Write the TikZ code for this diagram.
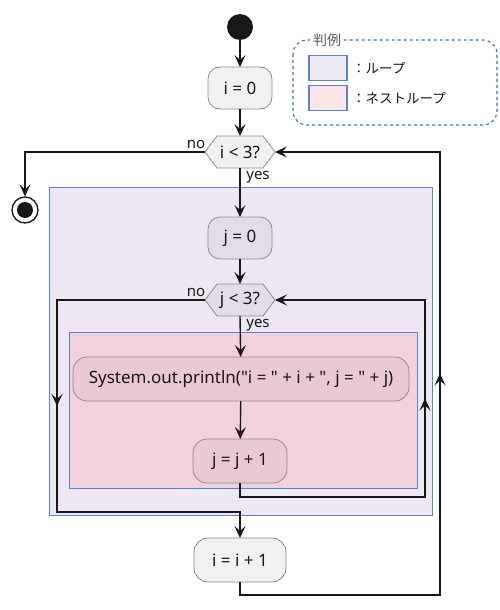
\documentclass[tikz,border=0pt]{standalone}
\usepackage{fontspec}
\setmainfont{Noto Sans}
\newfontfamily\plainfont{Noto Sans}
\newfontfamily\cjk{Noto Sans CJK JP}
\usetikzlibrary{arrows.meta,shapes.symbols,decorations.markings}
\definecolor{loopfill}{HTML}{EEE8F4}
\definecolor{nestfill}{HTML}{F2D3DD}
\definecolor{legloop}{HTML}{EDE9F5}
\definecolor{legnest}{HTML}{FDE4E6}
\definecolor{loopline}{HTML}{5A82D6}
\definecolor{legdash}{HTML}{3070D8}
\definecolor{plainfill}{HTML}{F1F1F1}
\definecolor{nodeline}{HTML}{8C8C8C}
\definecolor{loopnode}{HTML}{E3DDEA}
\definecolor{nestnode}{HTML}{E8C9D4}
\definecolor{ink}{HTML}{181818}
\begin{document}
\begin{tikzpicture}[x=1pt,y=-1pt,
  tip/.style={-{Stealth[length=12pt,width=11pt,inset=5pt]}},
  conn/.style={draw=ink,line width=1.4pt},
  act/.style={rounded corners=12pt,draw=nodeline,line width=0.8pt,minimum height=42pt,inner sep=0pt,outer sep=0pt,font=\plainfont\fontsize{17}{20}\selectfont,text=ink},
  dec/.style={signal,signal to=east and west,signal pointer angle=106,draw=nodeline,line width=0.8pt,minimum width=70pt,minimum height=32pt,inner sep=0pt,outer sep=0pt,font=\plainfont\fontsize{17}{20}\selectfont,text=ink},
  lbl/.style={font=\fontsize{15}{17}\selectfont,text=ink,inner sep=0pt},
  midtip/.style={decoration={markings,mark=at position 0.5 with {\arrow[line width=1.4pt,ink]{Stealth[length=12pt,width=11pt,inset=5pt]}}},postaction={decorate}},
  loopbox/.style={draw=loopline,line width=0.8pt},
  legbox/.style={draw=loopline,line width=1.3pt},
  legtext/.style={anchor=west,font=\cjk\fontsize{13.5}{16}\selectfont,inner sep=0pt,text=ink}
]
\useasboundingbox (0,0) rectangle (500,610);
% loop regions
\path[loopbox,fill=loopfill] (49,187) rectangle (432,515);
\path[loopbox,fill=nestfill] (69,332) rectangle (417,488);
% legend
\draw[legdash,dashed,line width=1.1pt,rounded corners=14pt] (293,40) rectangle (497,125);
\node[fill=white,inner sep=3pt,font=\cjk\fontsize{14}{16}\selectfont,text=black!65] (legt) at (327,40) {判例};
\node[legbox,fill=legloop,minimum width=38pt,minimum height=25pt,inner sep=0pt] (lb1) at (328,68) {};
\node[legbox,fill=legnest,minimum width=38pt,minimum height=25pt,inner sep=0pt] (lb2) at (328,98) {};
\node[legtext] (lt1) at (352,68) {：ループ};
\node[legtext] (lt2) at (352,98) {：ネストループ};
% nodes
\node[circle,fill=ink,minimum size=26pt,inner sep=0pt] (start) at (240,27) {};
\node[act,fill=plainfill,minimum width=64pt] (i0) at (240,88) {i = 0};
\node[dec,fill=plainfill] (d1) at (240,152) {i < 3?};
\node[circle,draw=ink,line width=1.3pt,fill=white,minimum size=26pt,inner sep=0pt] (end) at (25,210) {};
\node[circle,fill=ink,minimum size=16pt,inner sep=0pt] at (end) {};
\node[act,fill=loopnode,minimum width=64pt] (j0) at (240,238) {j = 0};
\node[dec,fill=loopnode] (d2) at (240,300) {j < 3?};
\node[act,fill=nestnode,minimum width=336pt,minimum height=44pt,rounded corners=14pt] (pr) at (241,379) {System.out.println("i = " + i + ", j = " + j)};
\node[act,fill=nestnode,minimum width=94pt,minimum height=44pt,rounded corners=14pt] (jj) at (240,461) {j = j + 1};
\node[act,fill=plainfill,minimum width=92pt,minimum height=44pt,rounded corners=14pt] (ii) at (240,560) {i = i + 1};
% labels
\node[lbl] (no1) at (196,144) {no};
\node[lbl] (yes1) at (258,177) {yes};
\node[lbl] (no2) at (196,292) {no};
\node[lbl] (yes2) at (258,325) {yes};
% coordinates
\coordinate (ol) at (25,152);
\coordinate (jr1) at (425,497);
\coordinate (jr2) at (425,300);
\coordinate (jl1) at (57,300);
\coordinate (jl2) at (57,512);
\coordinate (jl3) at (240,512);
\coordinate (ir1) at (440,595);
\coordinate (ir2) at (440,152);
% connectors
\draw[conn,tip] (start) -- (i0);
\draw[conn,tip] (i0) -- (d1.north);
\draw[conn,tip] (d1.south) -- (j0);
\draw[conn,tip] (j0) -- (d2.north);
\draw[conn,tip] (d2.south) -- (pr);
\draw[conn,tip] (pr) -- (jj);
\draw[conn,tip] (d1.west) -- (ol) -- (end);
\draw[conn,tip] (jj.south) |- (jr1) -- (jr2) -- (d2.east);
\path[midtip] (jr1) -- (jr2);
\draw[conn,tip] (d2.west) -- (jl1) -- (jl2) -- (jl3) -- (ii.north);
\path[midtip] (jl1) -- (jl2);
\draw[conn,tip] (ii.south) |- (ir1) -- (ir2) -- (d1.east);
\path[midtip] (ir1) -- (ir2);
\end{tikzpicture}
\end{document}
